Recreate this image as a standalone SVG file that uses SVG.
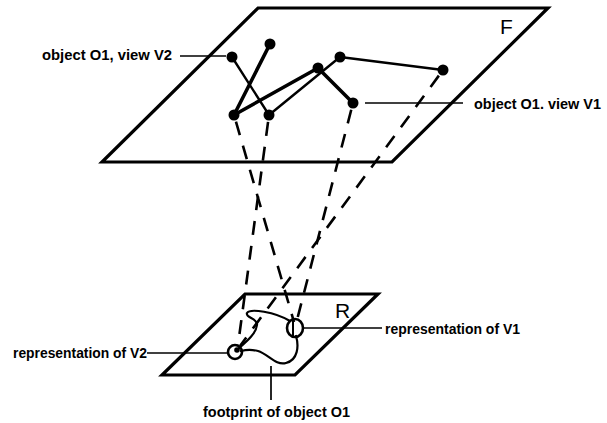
<svg xmlns="http://www.w3.org/2000/svg" width="607" height="423" viewBox="0 0 607 423">
<style>
.plane{fill:none;stroke:#000;stroke-width:3.2;stroke-linejoin:miter}
.thick{stroke:#000;stroke-width:3.6;stroke-linecap:round}
.thin{stroke:#000;stroke-width:2.4;stroke-linecap:round}
.dash{fill:none;stroke:#000;stroke-width:2.6;stroke-dasharray:14 11;stroke-dashoffset:18}
.lead{stroke:#000;stroke-width:1.7;fill:none}
.lbl{font-family:"Liberation Sans",Arial,sans-serif;font-weight:bold;font-size:15px;fill:#000}
.big{font-family:"Liberation Sans",Arial,sans-serif;font-size:21px;fill:#000}
.dot{fill:#000}
.curve{fill:none;stroke:#000;stroke-width:2.2;stroke-linecap:round}
</style>
<g id="plane-F">
<polygon class="plane" points="258,8 548,8 392,162 102,162"/>
<text class="big" x="500" y="34">F</text>
</g>
<g id="plane-R">
<polygon class="plane" points="245,294 378,294 295,375 162,375"/>
<text class="big" x="335" y="318">R</text>
</g>
<g id="connectors">
<line class="thin" x1="232" y1="57" x2="269" y2="115"/>
<line class="thin" x1="269" y1="115" x2="340" y2="57"/>
<line class="thin" x1="340" y1="57" x2="443" y2="70"/>
<line class="thick" x1="270" y1="44" x2="234" y2="115"/>
<line class="thick" x1="234" y1="115" x2="318" y2="68"/>
<line class="thick" x1="318" y1="68" x2="353" y2="103"/>
<line class="dash" x1="234" y1="115" x2="294" y2="322"/>
<line class="dash" x1="269" y1="115" x2="238" y2="345"/>
<line class="dash" x1="353" y1="103" x2="297" y2="320"/>
<line class="dash" x1="443" y1="70" x2="240" y2="346"/>
<line class="lead" x1="180" y1="56" x2="226" y2="56"/>
<line class="lead" x1="365" y1="103" x2="463" y2="103"/>
<line class="lead" x1="304" y1="328" x2="382" y2="328"/>
<line class="lead" x1="147" y1="353" x2="228" y2="353"/>
<line class="lead" x1="271" y1="366" x2="271" y2="400"/>
</g>
<g id="view-nodes">
<circle class="dot" cx="232" cy="57" r="5.5"/>
<circle class="dot" cx="270" cy="44" r="5.5"/>
<circle class="dot" cx="318" cy="68" r="5.5"/>
<circle class="dot" cx="340" cy="57" r="5.5"/>
<circle class="dot" cx="443" cy="70" r="5.5"/>
<circle class="dot" cx="353" cy="103" r="5.5"/>
<circle class="dot" cx="234" cy="115" r="5.5"/>
<circle class="dot" cx="269" cy="115" r="5.5"/>
</g>
<g id="footprint">
<path class="curve" d="M238,349 C246,342 256,334 257,325 C258,318 245,318 247,313 C250,308 275,312 290,321 M296,336 C299,346 298,360 286,363 C276,366 268,354 258,351 C250,349 245,350 241,351"/>
<ellipse cx="295" cy="328" rx="8" ry="9" fill="none" stroke="#000" stroke-width="2.6"/>
<line x1="293" y1="318" x2="293" y2="337" stroke="#000" stroke-width="2"/>
<circle cx="235" cy="352" r="7" fill="none" stroke="#000" stroke-width="2.6"/>
<circle class="dot" cx="237" cy="350" r="2.8"/>
</g>
<g id="labels">
<text class="lbl" x="42" y="60" textLength="130" lengthAdjust="spacingAndGlyphs">object O1, view V2</text>
<text class="lbl" x="474" y="109" textLength="127" lengthAdjust="spacingAndGlyphs">object O1. view V1</text>
<text class="lbl" x="385" y="334" textLength="135" lengthAdjust="spacingAndGlyphs">representation of V1</text>
<text class="lbl" x="13" y="358" textLength="134" lengthAdjust="spacingAndGlyphs">representation of V2</text>
<text class="lbl" x="203" y="417" textLength="147" lengthAdjust="spacingAndGlyphs">footprint of object O1</text>
</g>
</svg>
